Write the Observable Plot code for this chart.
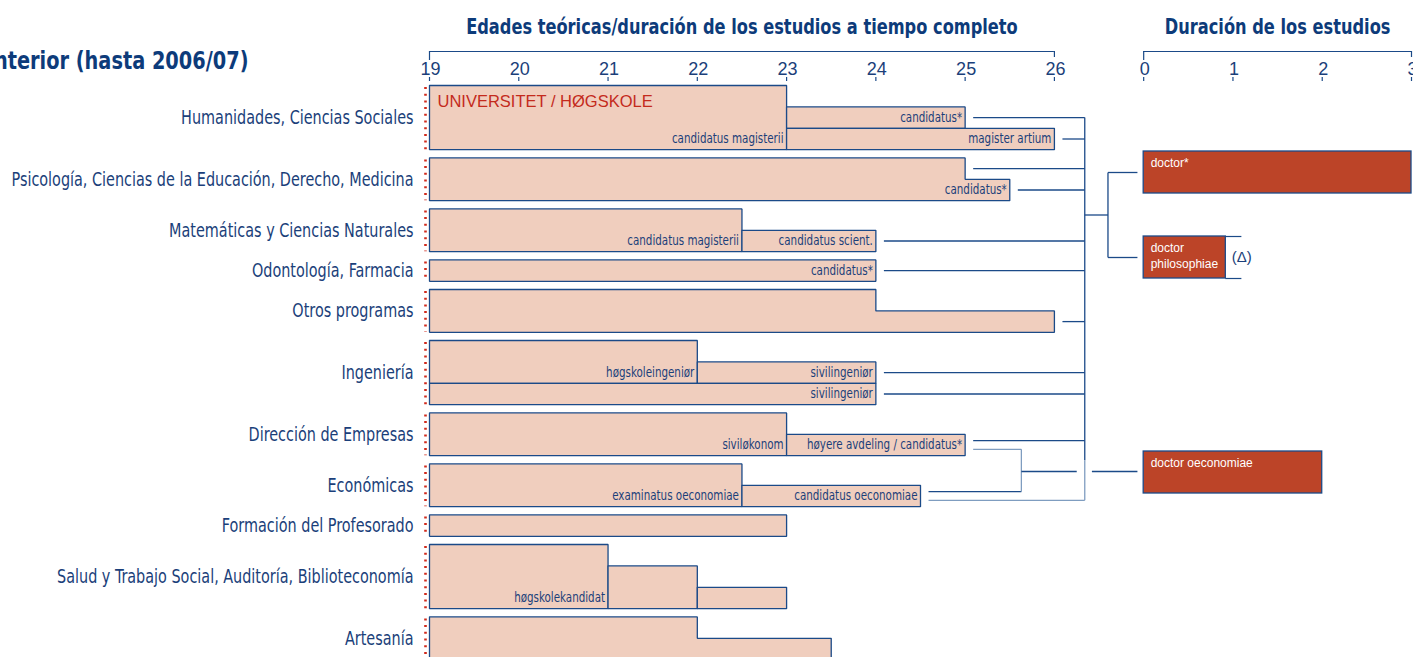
<!DOCTYPE html>
<html><head><meta charset="utf-8">
<script src="https://cdn.jsdelivr.net/npm/d3@7"></script>
<script src="https://cdn.jsdelivr.net/npm/@observablehq/plot@0.6"></script>
<style>body{margin:0;background:#fff;overflow:hidden}</style>
</head><body><div id="chart"></div>
<script>
// ---------- DATA ----------
const categories = [
  "Humanidades, Ciencias Sociales",
  "Psicología, Ciencias de la Educación, Derecho, Medicina",
  "Matemáticas y Ciencias Naturales",
  "Odontología, Farmacia",
  "Otros programas",
  "Ingeniería",
  "Dirección de Empresas",
  "Económicas",
  "Formación del Profesorado",
  "Salud y Trabajo Social, Auditoría, Biblioteconomía",
  "Artesanía"
];
const subRows = [3, 2, 2, 1, 2, 3, 2, 2, 1, 3, 2];
const ageTicks = [19, 20, 21, 22, 23, 24, 25, 26];
const durationTicks = [0, 1, 2, 3];
// programme blocks: category, start age, steps [end age, top sub-row], bottom sub-row
const blocks = [
  {cat: 0, start: 19,   steps: [[23, 0]],            bottom: 3},
  {cat: 0, start: 23,   steps: [[25, 1]],            bottom: 2},
  {cat: 0, start: 23,   steps: [[26, 2]],            bottom: 3},
  {cat: 1, start: 19,   steps: [[25, 0], [25.5, 1]], bottom: 2},
  {cat: 2, start: 19,   steps: [[22.5, 0]],          bottom: 2},
  {cat: 2, start: 22.5, steps: [[24, 1]],            bottom: 2},
  {cat: 3, start: 19,   steps: [[24, 0]],            bottom: 1},
  {cat: 4, start: 19,   steps: [[24, 0], [26, 1]],   bottom: 2},
  {cat: 5, start: 19,   steps: [[22, 0]],            bottom: 2},
  {cat: 5, start: 22,   steps: [[24, 1]],            bottom: 2},
  {cat: 5, start: 19,   steps: [[24, 2]],            bottom: 3},
  {cat: 6, start: 19,   steps: [[23, 0]],            bottom: 2},
  {cat: 6, start: 23,   steps: [[25, 1]],            bottom: 2},
  {cat: 7, start: 19,   steps: [[22.5, 0]],          bottom: 2},
  {cat: 7, start: 22.5, steps: [[24.5, 1]],          bottom: 2},
  {cat: 8, start: 19,   steps: [[23, 0]],            bottom: 1},
  {cat: 9, start: 19,   steps: [[21, 0]],            bottom: 3},
  {cat: 9, start: 21,   steps: [[22, 1]],            bottom: 3},
  {cat: 9, start: 22,   steps: [[23, 2]],            bottom: 3},
  {cat: 10, start: 19,  steps: [[22, 0], [23.5, 1]], bottom: 2}
];
const degreeLabels = [
  {cat: 0, row: 1, age: 25,   text: "candidatus*"},
  {cat: 0, row: 2, age: 23,   text: "candidatus magisterii"},
  {cat: 0, row: 2, age: 26,   text: "magister artium"},
  {cat: 1, row: 1, age: 25.5, text: "candidatus*"},
  {cat: 2, row: 1, age: 22.5, text: "candidatus magisterii"},
  {cat: 2, row: 1, age: 24,   text: "candidatus scient."},
  {cat: 3, row: 0, age: 24,   text: "candidatus*"},
  {cat: 5, row: 1, age: 22,   text: "høgskoleingeniør"},
  {cat: 5, row: 1, age: 24,   text: "sivilingeniør"},
  {cat: 5, row: 2, age: 24,   text: "sivilingeniør"},
  {cat: 6, row: 1, age: 23,   text: "siviløkonom"},
  {cat: 6, row: 1, age: 25,   text: "høyere avdeling / candidatus*"},
  {cat: 7, row: 1, age: 22.5, text: "examinatus oeconomiae"},
  {cat: 7, row: 1, age: 24.5, text: "candidatus oeconomiae"},
  {cat: 9, row: 2, age: 21,   text: "høgskolekandidat"}
];
// degrees giving access to doctor* / doctor philosophiae
const doctorFeeds = [
  {cat: 0, row: 1, age: 25}, {cat: 0, row: 2, age: 26},
  {cat: 1, row: 0, age: 25}, {cat: 1, row: 1, age: 25.5},
  {cat: 2, row: 1, age: 24}, {cat: 3, row: 0, age: 24},
  {cat: 4, row: 1, age: 26},
  {cat: 5, row: 1, age: 24}, {cat: 5, row: 2, age: 24},
  {cat: 6, row: 1, age: 25, side: -1}, {cat: 7, row: 1, age: 24.5, side: 1}
];
// degrees giving access to doctor oeconomiae
const econFeeds = [
  {cat: 6, row: 1, age: 25, side: 1}, {cat: 7, row: 1, age: 24.5, side: -1}
];
const doctorates = [
  {text: "doctor*", years: 3},
  {text: "doctor\nphilosophiae", years: 0.92, open: 1.1},
  {text: "doctor oeconomiae", years: 2}
];
const titleMain = "Edades teóricas/duración de los estudios a tiempo completo";
const titleRight = "Duración de los estudios";
const titleLeft = "Sistema anterior (hasta 2006/07)";
const bannerText = "UNIVERSITET / HØGSKOLE";

// ---------- LAYOUT ----------
const rowTop0 = 85, rowH = 21.4, catGap = 8.2, axisY = 51;
const DUR0 = 27;               // duration axis origin, on the age scale
const trunkX = 26.34, docBranchX = 26.6, econX = 25.63, econGapL = 26.25, econGapR = 26.42;
const feedGap = 0.09, barGap = 0.07, sideOff = 4.3;
const doctorTops = [151, 236, 451], doctorH = 42;

let acc = rowTop0;
const catTop = subRows.map(n => { const t = acc; acc += n * rowH + catGap; return t; });
const rowTopY = (c, r) => catTop[c] + r * rowH;
const rowMid = (c, r) => catTop[c] + (r + 0.5) * rowH;

const navy = "#1b4a88", light = "#7f9dc0", txt = "#1b3f7a", title = "#0d3b7a", red = "#d02a1c";
const cond = "'DejaVu Sans Condensed','DejaVu Sans',sans-serif";
const sans = "'Liberation Sans',Arial,sans-serif";

// polygons for programme blocks
const polyPts = [];
blocks.forEach((b, id) => {
  const p = [];
  p.push([b.start, rowTopY(b.cat, b.steps[0][1])]);
  b.steps.forEach((s, i) => {
    p.push([s[0], rowTopY(b.cat, s[1])]);
    if (i < b.steps.length - 1) p.push([s[0], rowTopY(b.cat, b.steps[i + 1][1])]);
  });
  const last = b.steps[b.steps.length - 1][0];
  p.push([last, rowTopY(b.cat, b.bottom)]);
  p.push([b.start, rowTopY(b.cat, b.bottom)]);
  p.push([b.start, rowTopY(b.cat, b.steps[0][1])]);
  p.forEach(([x, y]) => polyPts.push({id, x, y}));
});

// connector segments
const segs = [];
const fy = f => rowMid(f.cat, f.row) + (f.side || 0) * sideOff;
doctorFeeds.forEach(f => segs.push({x1: f.age + feedGap, x2: trunkX, y1: fy(f), y2: fy(f), c: f.side === 1 ? light : navy}));
const trunkYs = doctorFeeds.map(fy);
const docC = doctorTops.map(t => t + doctorH / 2);
const branchY = (docC[0] + docC[1]) / 2;
segs.push({x1: trunkX, x2: trunkX, y1: d3.min(trunkYs), y2: d3.max(trunkYs) - 40, c: navy});
segs.push({x1: trunkX, x2: trunkX, y1: d3.max(trunkYs) - 40, y2: d3.max(trunkYs), c: light});
segs.push({x1: trunkX, x2: docBranchX, y1: branchY, y2: branchY, c: navy});
segs.push({x1: docBranchX, x2: docBranchX, y1: docC[0], y2: docC[1], c: navy});
[0, 1].forEach(i => segs.push({x1: docBranchX, x2: DUR0 - barGap, y1: docC[i], y2: docC[i], c: navy}));
const econYs = econFeeds.map(fy);
econFeeds.forEach(f => segs.push({x1: f.age + feedGap, x2: econX, y1: fy(f), y2: fy(f), c: f.side === 1 ? light : navy}));
segs.push({x1: econX, x2: econX, y1: d3.min(econYs), y2: d3.max(econYs), c: light});
const econMid = (d3.min(econYs) + d3.max(econYs)) / 2 + 1;
segs.push({x1: econX, x2: econGapL, y1: econMid, y2: econMid, c: navy});
segs.push({x1: econGapR, x2: DUR0 - barGap, y1: econMid, y2: econMid, c: navy});

// open-ended part of doctor philosophiae
const openSegs = [];
doctorates.forEach((d, i) => {
  if (d.open) {
    openSegs.push({x1: DUR0 + d.years, x2: DUR0 + d.open, y: doctorTops[i]});
    openSegs.push({x1: DUR0 + d.years, x2: DUR0 + d.open, y: doctorTops[i] + doctorH});
  }
});

const axisSpans = [
  {x1: ageTicks[0], x2: ageTicks[ageTicks.length - 1]},
  {x1: DUR0 + durationTicks[0], x2: DUR0 + durationTicks[durationTicks.length - 1]}
];
const endTicks = [];
axisSpans.forEach(s => { endTicks.push({x: s.x1, y2: axisY + 9}); endTicks.push({x: s.x2, y2: axisY + 6}); });
const allTicks = ageTicks.map(t => ({x: t, label: String(t)}))
  .concat(durationTicks.map(t => ({x: DUR0 + t, label: String(t)})));

const chart = Plot.plot({
  width: 1413, height: 657,
  marginTop: 0, marginBottom: 0, marginLeft: 0, marginRight: 0,
  x: {domain: [19, 30], range: [429, 1411], axis: null},
  y: {type: "identity", axis: null},
  style: {background: "white", fontFamily: sans},
  marks: [
    // titles
    Plot.text([titleMain], {x: () => 22.5, y: () => 26, text: d => d, fontFamily: cond, fontWeight: "bold", fontSize: 22, fill: title}),
    Plot.text([titleRight], {x: () => DUR0 + 1.5, y: () => 26, text: d => d, fontFamily: cond, fontWeight: "bold", fontSize: 22, fill: title}),
    Plot.text([titleLeft], {x: () => 19, y: () => 60, dx: -181, textAnchor: "end", text: d => d, fontFamily: cond, fontWeight: "bold", fontSize: 25, fill: title}),
    // axes
    Plot.ruleY(axisSpans, {x1: "x1", x2: "x2", y: () => axisY, stroke: navy, strokeWidth: 1.2}),
    Plot.ruleX(endTicks, {x: "x", y1: () => axisY, y2: "y2", stroke: navy, strokeWidth: 1.2}),
    Plot.ruleX(allTicks, {x: "x", y1: () => axisY + 26, y2: () => axisY + 30, stroke: navy, strokeWidth: 1.2}),
    Plot.text(allTicks, {x: "x", y: () => axisY + 18, text: "label", fontFamily: sans, fontSize: 18, fill: txt, dx: 1}),
    // category labels & dotted markers
    Plot.text(categories, {x: () => 19, y: (d, i) => catTop[i] + subRows[i] * rowH / 2, text: d => d, textAnchor: "end", dx: -16, fontFamily: cond, fontSize: 20, fill: txt}),
    Plot.ruleX(categories, {x: () => 19, y1: (d, i) => catTop[i] + 2, y2: (d, i) => catTop[i] + subRows[i] * rowH, dx: -4, stroke: red, strokeWidth: 2.6, strokeDasharray: "2,4.7"}),
    // connectors
    Plot.link(segs, {x1: "x1", x2: "x2", y1: "y1", y2: "y2", stroke: "c", strokeWidth: 1.3}),
    // programme blocks
    Plot.line(polyPts, {x: "x", y: "y", z: "id", fill: "#f0cebe", stroke: navy, strokeWidth: 1.3, curve: "linear", strokeLinejoin: "miter"}),
    Plot.text([bannerText], {x: () => 19, y: () => rowTop0 + 16, dx: 8, textAnchor: "start", text: d => d, fontFamily: sans, fontSize: 16.5, fill: "#c42a1c"}),
    Plot.text(degreeLabels, {x: "age", y: d => rowMid(d.cat, d.row), text: "text", textAnchor: "end", dx: -3, fontFamily: cond, fontSize: 14, fill: txt}),
    // doctorates
    Plot.rect(doctorates, {x1: () => DUR0, x2: d => DUR0 + d.years, y1: (d, i) => doctorTops[i], y2: (d, i) => doctorTops[i] + doctorH, fill: "#bc4428", stroke: navy, strokeWidth: 1.3}),
    Plot.ruleY(openSegs, {x1: "x1", x2: "x2", y: "y", stroke: navy, strokeWidth: 1.2}),
    Plot.text(doctorates.filter(d => d.open), {x: d => DUR0 + d.years, y: d => doctorTops[doctorates.indexOf(d)] + doctorH / 2, dx: 6, text: () => "(Δ)", textAnchor: "start", fontFamily: sans, fontSize: 15, fill: txt}),
    Plot.text(doctorates, {x: () => DUR0, y: (d, i) => doctorTops[i] + 4, dx: 7, text: "text", textAnchor: "start", lineAnchor: "top", lineHeight: 1.35, fontFamily: sans, fontSize: 12, fill: "white"})
  ]
});
// condense the condensed-face texts horizontally (narrow typeface look)
chart.querySelectorAll('g[font-family*="Condensed"]').forEach(g => {
  const fs = +g.getAttribute("font-size");
  const f = fs >= 24 ? 0.86 : fs >= 21 ? 0.82 : fs >= 17 ? 0.8 : 0.82;
  g.querySelectorAll("text").forEach(t => {
    t.setAttribute("transform", (t.getAttribute("transform") || "") + ` scale(${f},1)`);
  });
});
document.getElementById("chart").appendChild(chart);
</script>
</body></html>
